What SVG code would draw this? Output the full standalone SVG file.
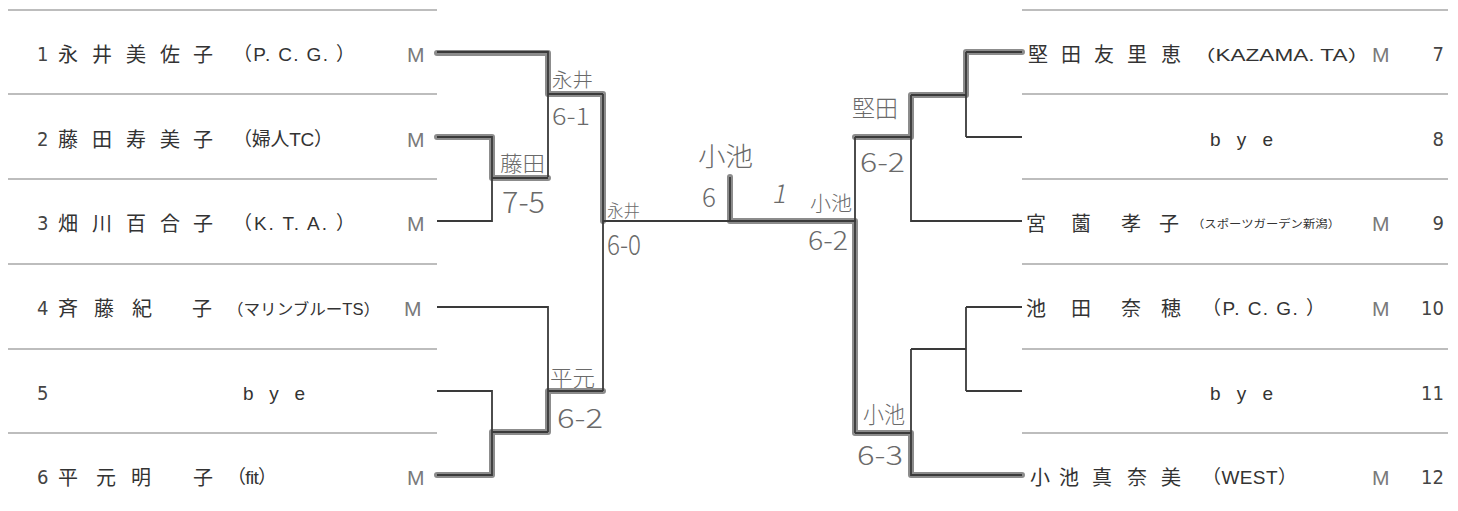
<svg xmlns="http://www.w3.org/2000/svg" width="1458" height="511" viewBox="0 0 1458 511">
<style>
.sep{stroke:#a8a8a8;stroke-width:1.3;fill:none}
.ln{stroke:#3a3a3a;stroke-width:1.8;fill:none;stroke-linejoin:miter}
.hl{stroke:#8c8c8c;stroke-width:6;fill:none;stroke-linecap:round;stroke-linejoin:round}
.nm{font-family:"Noto Sans CJK JP","Noto Sans",sans-serif;font-size:20px;fill:#333}
.lat{font-family:"Liberation Sans","Noto Sans CJK JP",sans-serif;font-size:19px;fill:#333}
.sm{font-family:"Liberation Sans","Noto Sans CJK JP",sans-serif;font-size:16px;fill:#333}
.xs{font-family:"Noto Sans CJK JP",sans-serif;font-size:11px;fill:#333}
.num{font-family:"Liberation Sans Narrow","DejaVu Sans Condensed","Liberation Sans",sans-serif;font-size:20px;fill:#444}
.m{font-family:"Liberation Sans",sans-serif;font-size:21px;fill:#7a7a7a}
.hw{font-family:"Noto Sans CJK JP",sans-serif;font-weight:300;fill:#6a6a6a}
</style>
<g id="separators">
<path class="sep" d="M8 10H437M8 94H437M8 179H437M8 264H437M8 349H437M8 433H437"/>
<path class="sep" d="M1022 10H1448M1022 94H1448M1022 179H1448M1022 264H1448M1022 349H1448M1022 433H1448"/>
</g>
<g id="connectors">
<path class="hl" d="M437 53H548V94H603V221"/>
<path class="hl" d="M437 137H492V178H548"/>
<path class="hl" d="M437 475H492V432H548V391H603"/>
<path class="hl" d="M730 177V221H855V433H911V475H1022"/>
<path class="hl" d="M855 137H911V95H966V52H1022"/>
<path class="ln" d="M437 52H548V177M548 94H603"/>
<path class="ln" d="M437 137H492V221H437M492 178H548"/>
<path class="ln" d="M603 94V391M603 221H856"/>
<path class="ln" d="M437 307H548V432"/>
<path class="ln" d="M437 391H492V475H437M492 432H548M548 391H603"/>
<path class="ln" d="M730 177V221"/>
<path class="ln" d="M855 137V433M855 137H911M911 95V221H1022M911 95H966"/>
<path class="ln" d="M966 52V137M966 52H1022M966 137H1022"/>
<path class="ln" d="M966 307V391M966 307H1022M966 391H1022"/>
<path class="ln" d="M911 349H966M911 349V475H1022M855 433H911"/>
</g>
<g id="p1">
<text class="num" x="37" y="61">1</text>
<text class="nm" x="58 92 126 160 193" y="62">永井美佐子</text>
<text class="lat" x="233" y="61" textLength="122" lengthAdjust="spacing">（P. C. G. ）</text>
<text class="m" x="407" y="62">M</text>
</g>
<g id="p2">
<text class="num" x="37" y="146">2</text>
<text class="nm" x="58 92 126 160 193" y="147">藤田寿美子</text>
<text class="lat" x="233" y="146" textLength="100" lengthAdjust="spacing">（婦人TC）</text>
<text class="m" x="407" y="147">M</text>
</g>
<g id="p3">
<text class="num" x="37" y="230">3</text>
<text class="nm" x="58 92 126 160 193" y="231">畑川百合子</text>
<text class="lat" x="233" y="230" textLength="122" lengthAdjust="spacing">（K. T. A. ）</text>
<text class="m" x="407" y="231">M</text>
</g>
<g id="p4">
<text class="num" x="37" y="315">4</text>
<text class="nm" x="58 94 132 192" y="316">斉藤紀子</text>
<text class="sm" x="227" y="315" textLength="153" lengthAdjust="spacingAndGlyphs">（マリンブルーTS）</text>
<text class="m" x="404" y="316">M</text>
</g>
<g id="p5">
<text class="num" x="37" y="400">5</text>
<text class="lat" x="243" y="400" font-size="20" textLength="62" lengthAdjust="spacing">bye</text>
</g>
<g id="p6">
<text class="num" x="37" y="484">6</text>
<text class="nm" x="58 96 131 193" y="485">平元明子</text>
<text class="lat" x="227" y="484" textLength="50" lengthAdjust="spacing">（fit）</text>
<text class="m" x="407" y="485">M</text>
</g>
<g id="p7">
<text class="nm" x="1028 1061 1094 1127 1161" y="62">堅田友里恵</text>
<text class="sm" x="1193" y="61" textLength="177" lengthAdjust="spacingAndGlyphs">（KAZAMA. TA）</text>
<text class="m" x="1372" y="62">M</text>
<text class="num" x="1444" y="61" text-anchor="end">7</text>
</g>
<g id="p8">
<text class="lat" x="1210" y="146" font-size="20" textLength="63" lengthAdjust="spacing">bye</text>
<text class="num" x="1444" y="146" text-anchor="end">8</text>
</g>
<g id="p9">
<text class="nm" x="1026 1071 1121 1159" y="231">宮薗孝子</text>
<text class="xs" x="1192" y="228" textLength="148" lengthAdjust="spacingAndGlyphs">（スポーツガーデン新潟）</text>
<text class="m" x="1372" y="231">M</text>
<text class="num" x="1444" y="230" text-anchor="end">9</text>
</g>
<g id="p10">
<text class="nm" x="1026 1071 1121 1161" y="316">池田奈穂</text>
<text class="lat" x="1202" y="315" textLength="123" lengthAdjust="spacing">（P. C. G. ）</text>
<text class="m" x="1372" y="316">M</text>
<text class="num" x="1444" y="315" text-anchor="end">10</text>
</g>
<g id="p11">
<text class="lat" x="1210" y="400" font-size="20" textLength="63" lengthAdjust="spacing">bye</text>
<text class="num" x="1444" y="400" text-anchor="end">11</text>
</g>
<g id="p12">
<text class="nm" x="1030 1059 1092 1127 1161" y="485">小池真奈美</text>
<text class="lat" x="1202" y="484" textLength="95" lengthAdjust="spacing">（WEST）</text>
<text class="m" x="1372" y="485">M</text>
<text class="num" x="1444" y="484" text-anchor="end">12</text>
</g>
<g id="scores">
<text class="hw" x="552" y="87" font-size="19" textLength="41" lengthAdjust="spacingAndGlyphs">永井</text>
<text class="hw" x="552" y="125" font-size="24" textLength="38" lengthAdjust="spacingAndGlyphs">6-1</text>
<text class="hw" x="500" y="171" font-size="21" textLength="45" lengthAdjust="spacingAndGlyphs">藤田</text>
<text class="hw" x="502" y="213" font-size="30" textLength="43" lengthAdjust="spacingAndGlyphs">7-5</text>
<text class="hw" x="607" y="217" font-size="17" textLength="33" lengthAdjust="spacingAndGlyphs">永井</text>
<text class="hw" x="607" y="255" font-size="28" textLength="34" lengthAdjust="spacingAndGlyphs">6-0</text>
<text class="hw" x="698" y="166" font-size="26" textLength="55" lengthAdjust="spacingAndGlyphs">小池</text>
<text class="hw" x="702" y="207" font-size="26">6</text>
<text class="hw" x="772" y="203" font-size="26" transform="skewX(-12) translate(43 0)">1</text>
<text class="hw" x="810" y="211" font-size="20" textLength="42" lengthAdjust="spacingAndGlyphs">小池</text>
<text class="hw" x="808" y="250" font-size="26" textLength="40" lengthAdjust="spacingAndGlyphs">6-2</text>
<text class="hw" x="852" y="117" font-size="24" textLength="46" lengthAdjust="spacingAndGlyphs">堅田</text>
<text class="hw" x="860" y="172" font-size="26" textLength="45" lengthAdjust="spacingAndGlyphs">6-2</text>
<text class="hw" x="550" y="386" font-size="22" textLength="45" lengthAdjust="spacingAndGlyphs">平元</text>
<text class="hw" x="557" y="428" font-size="27" textLength="46" lengthAdjust="spacingAndGlyphs">6-2</text>
<text class="hw" x="863" y="423" font-size="23" textLength="42" lengthAdjust="spacingAndGlyphs">小池</text>
<text class="hw" x="857" y="465" font-size="27" textLength="46" lengthAdjust="spacingAndGlyphs">6-3</text>
</g>
</svg>
